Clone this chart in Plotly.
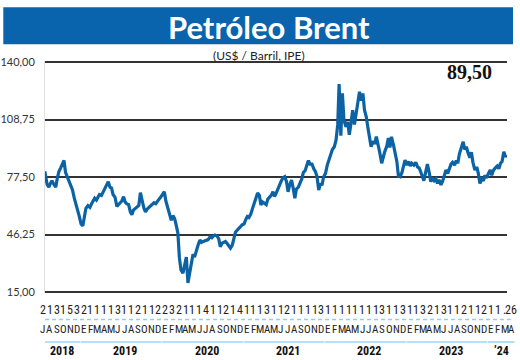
import calendar
import plotly.graph_objects as go

# ---------------- data ----------------
MONTH_LETTERS = ["J", "A", "S", "O", "N", "D"] + \
    ["E", "F", "M", "A", "M", "J", "J", "A", "S", "O", "N", "D"] * 5 + \
    ["E", "F", "M", "A"]

DAY_LABELS = ["2", "1", "3", "1", "5", "3",
              "2", "1", "1", "1", "1", "3", "1", "1", "2", "1", "1", "2",
              "2", "3", "2", "1", "1", "1", "4", "1", "1", "2", "1", "4",
              "1", "1", "1", "3", "1", "1", "2", "1", "1", "1", "1", "3",
              "1", "1", "1", "1", "1", "1", "1", "1", "3", "1", "1", "3",
              "1", "1", "3", "2", "1", "3", "1", "1", "2", "1", "1", "2",
              "1", "1", ".", "26"]

YEARS = ["2018", "2019", "2020", "2021", "2022", "2023", "\u201924"]
YEAR_MONTHS = [6, 12, 12, 12, 12, 12, 4]

WEEK_DAYS = [4, 12, 19, 26]  # sampled days within each month

PRICE_2018 = [78.0, 77.5, 79.0, 79.5,
              73.5, 72.0, 74.0, 75.5,
              73.5, 72.0, 77.0, 80.5,
              82.5, 84.5, 86.5, 80.0,
              77.0, 75.5, 72.5, 70.5,
              66.0, 61.5, 59.5, 56.5]
PRICE_2019 = [52.0, 51.0, 56.0, 60.5,
              62.0, 61.0, 63.0, 64.5,
              66.0, 65.0, 67.0, 68.0,
              67.5, 69.5, 71.0, 72.5,
              75.0, 72.0, 71.5, 68.0,
              66.5, 61.5, 62.5, 63.5,
              64.5, 66.8, 64.0, 63.0,
              62.5, 58.5, 57.0, 59.5,
              60.5, 61.5, 62.0, 69.0,
              64.0, 60.5, 58.5, 60.0,
              61.0, 62.0, 62.5, 63.5,
              63.0, 64.0, 65.5, 66.5]
PRICE_2020 = [68.5, 69.5, 64.5, 61.0,
              57.5, 54.0, 56.5, 55.0,
              51.5, 47.0, 33.5, 27.0,
              25.3, 30.5, 34.0, 19.9,
              26.0, 31.0, 35.5, 34.0,
              38.5, 41.0, 43.3, 42.0,
              42.5, 43.0, 43.5, 43.5,
              45.0, 44.5, 45.5, 46.0,
              45.5, 44.0, 39.6, 41.5,
              42.0, 42.5, 41.5, 40.5,
              38.9, 40.5, 44.0, 47.5,
              48.7, 49.5, 50.5, 51.5]
PRICE_2021 = [52.0, 54.5, 56.0, 55.5,
              57.5, 61.0, 63.5, 66.0,
              68.8, 67.5, 62.3, 64.0,
              63.0, 62.5, 65.5, 66.5,
              67.5, 69.5, 67.0, 68.5,
              71.5, 73.0, 75.5, 77.0,
              77.7, 75.0, 69.5, 73.0,
              75.9, 71.0, 66.0, 71.0,
              72.0, 74.5, 76.5, 80.0,
              81.0, 84.0, 86.5, 84.5,
              84.5, 82.0, 80.5, 78.0,
              70.4, 74.0, 73.0, 77.5]
PRICE_2022 = [79.5, 84.0, 87.0, 90.0,
              92.5, 94.0, 97.5, 106.0,
              128.0, 100.0, 123.0, 108.5,
              104.8, 107.5, 100.5, 106.5,
              113.9, 106.0, 112.0, 117.5,
              123.9, 119.0, 123.0, 114.0,
              110.3, 104.0, 99.5, 94.0,
              97.0, 95.5, 99.5, 96.0,
              90.5, 85.0, 88.5, 91.5,
              94.0, 98.7, 93.5, 99.4,
              95.0, 91.0, 86.0, 78.0,
              77.7, 80.0, 83.0, 86.7]
PRICE_2023 = [84.0, 86.0, 83.5, 85.0,
              84.0, 85.5, 83.0, 82.4,
              80.5, 77.7, 75.5, 79.5,
              84.5, 80.0, 75.0, 77.0,
              75.5, 76.5, 74.0, 76.0,
              73.2, 75.5, 78.0, 81.3,
              79.5, 82.5, 84.5, 85.5,
              84.0, 86.5, 85.0, 90.0,
              93.5, 96.7, 92.5, 94.0,
              90.5, 88.0, 91.0, 85.5,
              81.3, 83.0, 79.5, 74.0,
              76.5, 75.5, 78.5, 77.0]
PRICE_2024 = [79.5, 81.3, 78.5, 81.0,
              82.5, 83.5, 82.0, 85.0,
              86.0, 91.3, 88.5, 89.5]

PRICES = PRICE_2018 + PRICE_2019 + PRICE_2020 + PRICE_2021 + PRICE_2022 + PRICE_2023 + PRICE_2024
LAST_VALUE_LABEL = "89,50"

Y_TICKS = [15, 46.25, 77.5, 108.75, 140]
Y_TICK_TEXT = ["15,00", "46,25", "77,50", "108,75", "140,00"]

# x positions: fractional month index (0 = July 2018, centred on mid-month)
xs = []
n_months = len(PRICES) // len(WEEK_DAYS)
for k in range(n_months):
    yr = 2018 + (6 + k) // 12
    mo = (6 + k) % 12 + 1
    nd = calendar.monthrange(yr, mo)[1]
    for d in WEEK_DAYS:
        xs.append(k + (d - 0.5) / nd - 0.5)

# ---------------- figure ----------------
BLUE = "#0b63a6"
NARROW = "Liberation Sans Narrow, Arial Narrow, Roboto Condensed, Lato, sans-serif"
X_RANGE = [0.30, 68.34]


def px_(i):
    """month index -> paper x fraction (via the x axis range)"""
    return (i - X_RANGE[0]) / (X_RANGE[1] - X_RANGE[0])


fig = go.Figure()
fig.add_trace(go.Scatter(x=xs, y=PRICES, mode="lines",
                         line=dict(color=BLUE, width=3.2),
                         hoverinfo="skip", showlegend=False))

H = 299.0  # paper height in px (360 - top margin)


def py(p):
    return (360 - p) / H


annotations = []
shapes = []

# title band
shapes.append(dict(type="rect", xref="paper", yref="paper",
                   x0=-0.0903, x1=1.013, y0=py(44.3), y1=py(7.3),
                   fillcolor="#0a64ad", line=dict(width=0), layer="above"))
annotations.append(dict(text="<b>Petróleo Brent</b>", xref="paper", yref="paper",
                        x=0.4848, y=py(27), xanchor="center", yanchor="middle",
                        showarrow=False, font=dict(family="Lato", size=31, color="white")))
annotations.append(dict(text="(US$ / Barril, IPE)", xref="paper", yref="paper",
                        x=0.463, y=py(55), xanchor="center", yanchor="middle",
                        showarrow=False, font=dict(family="Lato", size=12, color="#222")))
annotations.append(dict(text="<b>" + LAST_VALUE_LABEL + "</b>", xref="paper", yref="paper",
                        x=0.9188, y=py(72), xanchor="center", yanchor="middle",
                        showarrow=False,
                        font=dict(family="Liberation Serif, DejaVu Serif, serif", size=20, color="#111")))

# bottom rows
for i, (d, m) in enumerate(zip(DAY_LABELS, MONTH_LETTERS)):
    annotations.append(dict(text=d, x=px_(i), xref="paper", y=py(309.5), yref="paper",
                            xanchor="center", yanchor="middle", showarrow=False,
                            font=dict(family=NARROW, size=12, color="#222")))
    annotations.append(dict(text=m, x=px_(i), xref="paper", y=py(329), yref="paper",
                            xanchor="center", yanchor="middle", showarrow=False,
                            font=dict(family=NARROW, size=11, color="#222")))

shapes.append(dict(type="line", xref="paper", yref="paper", x0=px_(0.3), x1=px_(69.0),
                   y0=py(319.5), y1=py(319.5),
                   line=dict(color="#8ccfee", width=1.3, dash="4px,3px")))

start = 0
for label, cnt in zip(YEARS, YEAR_MONTHS):
    k0, k1 = start, start + cnt - 1
    a = max(k0 - 0.45, 0.3)
    b = k1 + 0.45
    shapes.append(dict(type="line", xref="paper", yref="paper", x0=px_(a), x1=px_(b),
                       y0=py(342), y1=py(342),
                       line=dict(color="#9fd6f0", width=1.6)))
    annotations.append(dict(text="<b>" + label + "</b>", x=px_((a + b) / 2), xref="paper",
                            xshift=4 if cnt == 12 else 0,
                            y=py(351), yref="paper", xanchor="center", yanchor="middle",
                            showarrow=False,
                            font=dict(family=NARROW, size=12, color="#111")))
    start += cnt

fig.update_layout(
    width=520, height=360,
    margin=dict(l=45, r=13, t=61, b=0, autoexpand=False),
    paper_bgcolor="white", plot_bgcolor="white",
    showlegend=False,
    annotations=annotations,
    shapes=shapes,
    xaxis=dict(range=X_RANGE, showgrid=False, zeroline=False,
               showticklabels=False, ticks="", showline=False, fixedrange=True,
               automargin=False),
    yaxis=dict(range=[14.4, 140.6], domain=[(360 - 293.1) / H, 1],
               tickvals=Y_TICKS, ticktext=Y_TICK_TEXT,
               showgrid=True, gridcolor="#333", gridwidth=1.6,
               zeroline=False, showline=True, linecolor="#e0e0e0", linewidth=1,
               ticks="", ticklabelstandoff=7, automargin=False,
               tickfont=dict(family="Lato", size=11, color="#333"),
               fixedrange=True),
)

fig.write_html("out.html", config={"displayModeBar": False},
               post_script="document.body.style.margin='0px';document.body.style.padding='0px';")
